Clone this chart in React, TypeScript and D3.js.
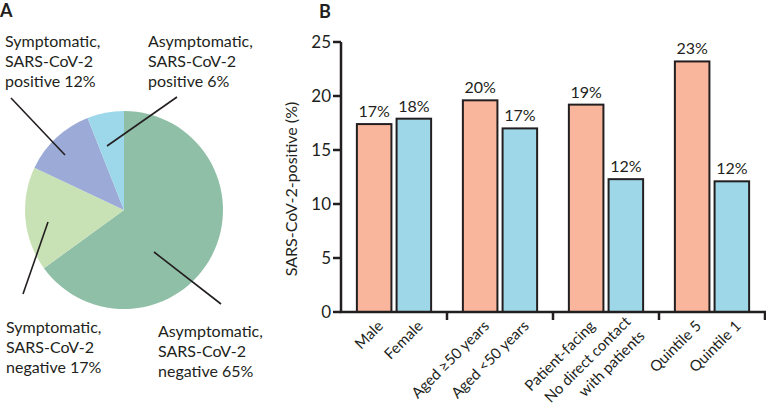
import React from 'react';
import * as d3 from 'd3';

// panel A: outcome split (%)
const pieLabels = [
    ['Asymptomatic,', 'SARS-CoV-2', 'negative 65%'],
    ['Symptomatic,', 'SARS-CoV-2', 'negative 17%'],
    ['Symptomatic,', 'SARS-CoV-2', 'positive 12%'],
    ['Asymptomatic,', 'SARS-CoV-2', 'positive 6%'],
];
const pieValues = [65, 17, 12, 6];
const pieColors = ['#8fbfa7', '#c9e2b5', '#9caad7', '#9dd8ea'];

// panel B: positivity by group (%)
const groups = ['sex', 'age', 'role', 'imd'];
const barLabels = [
    ['Male'], ['Female'],
    ['Aged \u226550 years'], ['Aged <50 years'],
    ['Patient-facing'], ['No direct contact', 'with patients'],
    ['Quintile 5'], ['Quintile 1'],
];
const barValues = [17.4, 17.9, 19.6, 17.0, 19.2, 12.3, 23.2, 12.1];
const barText = ['17%', '18%', '20%', '17%', '19%', '12%', '23%', '12%'];
const yTicks = [0, 5, 10, 15, 20, 25];

const ink = '#231f20';
const font = 'Lato, sans-serif';

// label layout for the pie (relative to the pie centre)
const pieLabelPos = [
    { x: 34, y: 127 },
    { x: -118, y: 123 },
    { x: -119, y: -163 },
    { x: 24, y: -163 },
];
const leaders = [
    [[30, 42], [97, 94]],
    [[-76, 12], [-101, 84]],
    [[-59, -55], [-113, -112]],
    [[-17, -64], [53, -113]],
];

const App: React.FC = () => {
    const cx = 124, cy = 210, r = 99;
    const pie = d3.pie<number>().sort(null).value(d => d);
    const arcs = pie(pieValues);
    const arc = d3.arc<d3.PieArcDatum<number>>().innerRadius(0).outerRadius(r);

    const x0 = 341, x1 = 765, yBase = 312, yTop = 42;
    const y = d3.scaleLinear().domain([0, 25]).range([yBase, yTop]);
    const gx = d3.scaleBand<string>().domain(groups).range([x0, x1]);
    const ix = d3.scaleBand<string>().domain(['a', 'b'])
        .range([0, gx.bandwidth()]).paddingInner(0.13).paddingOuter(0.4);
    const barX = (i: number) => (gx(groups[Math.floor(i / 2)]) as number) + (ix(i % 2 ? 'b' : 'a') as number);
    const bw = ix.bandwidth();

    return (
        <svg width={766} height={406} style={{ position: 'absolute', left: 0, top: 0 }}
            fontFamily={font} fill={ink}>
            <rect width={766} height={406} fill="#fff" />
            <text x={0} y={17} fontSize={18} fontWeight="bold">A</text>
            <text x={319} y={18} fontSize={18} fontWeight="bold">B</text>

            <g transform={`translate(${cx},${cy})`}>
                {arcs.map((a, i) => (
                    <path key={i} d={arc(a) as string} fill={pieColors[i]} />
                ))}
                {leaders.map((l, i) => (
                    <line key={i} x1={l[0][0]} y1={l[0][1]} x2={l[1][0]} y2={l[1][1]}
                        stroke={ink} strokeWidth={1.6} />
                ))}
                {pieLabels.map((lines, i) => (
                    <text key={i} fontSize={16}>
                        {lines.map((s, j) => (
                            <tspan key={j} x={pieLabelPos[i].x} y={pieLabelPos[i].y + j * 20}>{s}</tspan>
                        ))}
                    </text>
                ))}
            </g>

            <g>
                {barValues.map((v, i) => (
                    <rect key={i} x={barX(i)} y={y(v)} width={bw} height={yBase - y(v)}
                        fill={i % 2 ? '#9dd7e8' : '#f9b69c'} stroke={ink} strokeWidth={2} />
                ))}
                {barValues.map((v, i) => (
                    <text key={i} x={barX(i) + bw / 2} y={y(v) - 7} fontSize={16} textAnchor="middle">
                        {barText[i]}
                    </text>
                ))}

                <line x1={x0} x2={x0} y1={yTop} y2={yBase + 1} stroke={ink} strokeWidth={2.5} />
                {yTicks.map(t => (
                    <g key={t}>
                        <line x1={x0 - 8} x2={x0} y1={y(t)} y2={y(t)} stroke={ink} strokeWidth={2.5} />
                        <text x={x0 - 10} y={y(t)} dy="0.35em" fontSize={17} textAnchor="end">{t}</text>
                    </g>
                ))}
                <line x1={x0 - 1} x2={x1 + 1} y1={yBase} y2={yBase} stroke={ink} strokeWidth={2.5} />
                {groups.map(g => (
                    <line key={g} x1={(gx(g) as number) + gx.bandwidth()} x2={(gx(g) as number) + gx.bandwidth()}
                        y1={yBase} y2={yBase + 8} stroke={ink} strokeWidth={2.5} />
                ))}
                <text transform={`translate(297,${(yTop + yBase) / 2 + 12}) rotate(-90)`}
                    fontSize={16} textAnchor="middle">SARS-CoV-2-positive (%)</text>

                {barLabels.map((lines, i) => {
                    const bx = barX(i) + bw / 2;
                    return (
                        <text key={i} transform={`translate(${bx + 2},${yBase + 7}) rotate(-45)`}
                            fontSize={15} textAnchor="end">
                            {lines.map((s, j) => (
                                <tspan key={j} x={0} y={j * 20 - (lines.length - 1) * 6} dy="0.75em">{s}</tspan>
                            ))}
                        </text>
                    );
                })}
            </g>
        </svg>
    );
};

export default App;
